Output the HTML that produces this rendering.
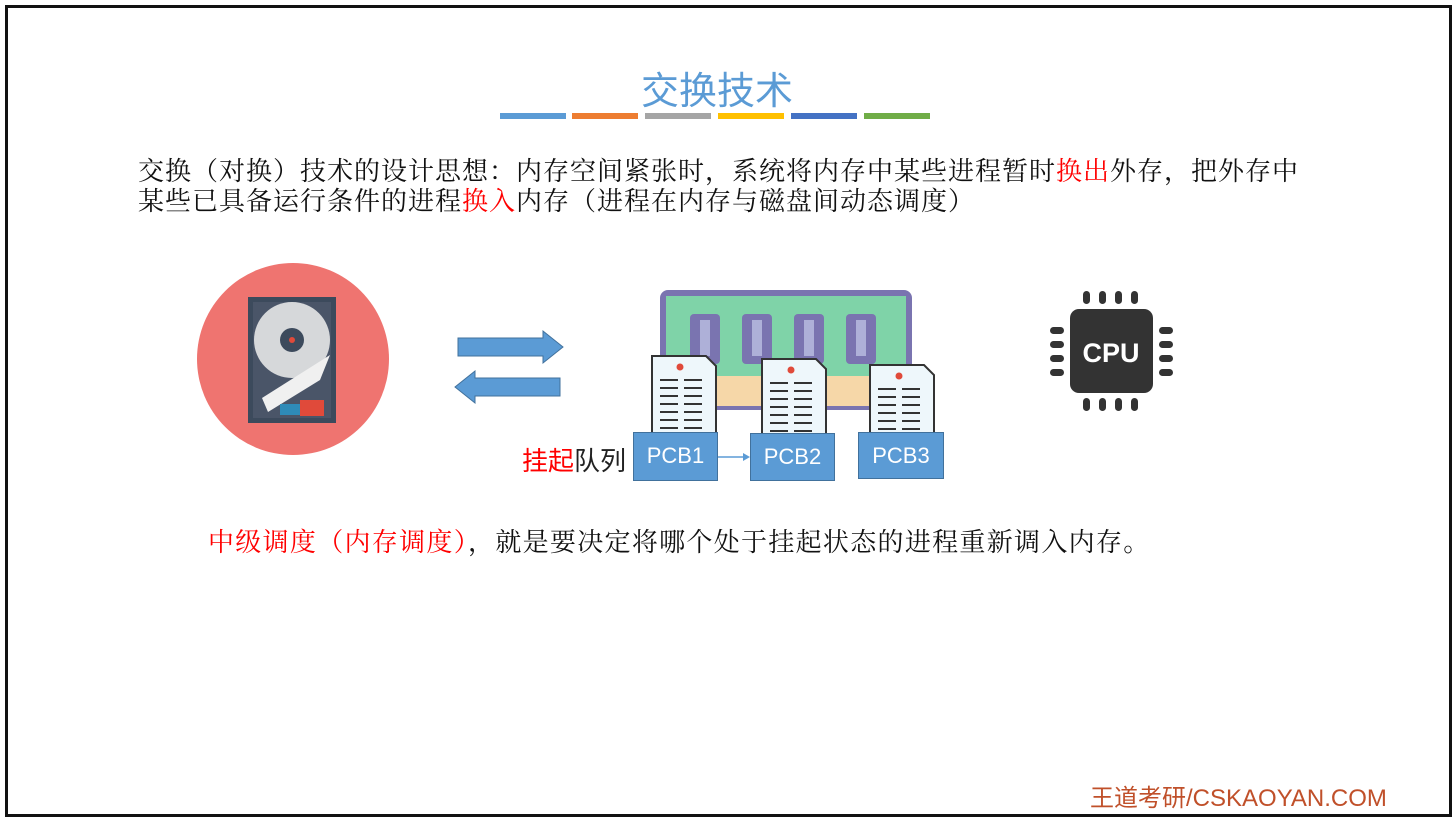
<!DOCTYPE html>
<html><head><meta charset="utf-8"><style>
body{margin:0;width:1456px;height:822px;background:#fff;position:relative;overflow:hidden;font-family:"Liberation Serif","Noto Serif CJK SC",serif;}
.frame{position:absolute;left:5px;top:5px;width:1441px;height:806px;border:3px solid #111;}
.t{position:absolute;white-space:nowrap;}
.r{color:#ff0000}
.bar{position:absolute;top:113px;width:66px;height:6px}
.pcb{position:absolute;background:#5b9bd5;border:1px solid #41719c;color:#fff;font-family:"Liberation Sans",sans-serif;font-size:22px;text-align:center;line-height:46px}
</style></head><body>
<div class="frame"></div>
<div class="t" style="left:641px;top:60px;font-size:38px;color:#5b9bd5;font-family:'Liberation Sans','Noto Sans CJK SC',sans-serif;">交换技术</div>
<div class="bar" style="left:500px;background:#5b9bd5"></div>
<div class="bar" style="left:572px;background:#ed7d31"></div>
<div class="bar" style="left:645px;background:#a5a5a5"></div>
<div class="bar" style="left:718px;background:#ffc000"></div>
<div class="bar" style="left:791px;background:#4472c4"></div>
<div class="bar" style="left:864px;background:#70ad47"></div>
<div class="t" style="left:138px;top:157px;font-size:26px;letter-spacing:1px;line-height:30px;color:#111">交换（对换）技术的设计思想：内存空间紧张时，系统将内存中某些进程暂时<span class="r">换出</span>外存，把外存中<br>某些已具备运行条件的进程<span class="r">换入</span>内存（进程在内存与磁盘间动态调度）</div>

<svg style="position:absolute;left:0;top:0" width="1456" height="822">
<circle cx="293" cy="359" r="96" fill="#ef7470"/>
<rect x="248" y="297" width="88" height="126" fill="#3c4a5c"/>
<rect x="253" y="302" width="78" height="116" fill="#4a5568"/>
<circle cx="292" cy="340" r="38" fill="#d6d8da"/>
<circle cx="292" cy="340" r="12" fill="#3c4a5c"/>
<circle cx="292" cy="340" r="3" fill="#e04a3a"/>
<polygon points="262,398 330,355 320,380 268,412" fill="#f0f0f0"/>
<rect x="280" y="404" width="20" height="11" fill="#2e8bb8"/>
<rect x="300" y="400" width="24" height="16" fill="#e04a3a"/>
<polygon points="458,338 543,338 543,331 563,347 543,363 543,356 458,356" fill="#5b9bd5" stroke="#41719c" stroke-width="1"/>
<polygon points="560,378 475,378 475,371 455,387 475,403 475,396 560,396" fill="#5b9bd5" stroke="#41719c" stroke-width="1"/>
<rect x="660" y="290" width="252" height="120" rx="8" fill="#7a74b0"/>
<rect x="666" y="296" width="240" height="80" fill="#7fd3a8"/>
<rect x="666" y="376" width="240" height="30" fill="#f6d7a8"/>
<rect x="690" y="314" width="30" height="50" rx="4" fill="#7a74b0"/><rect x="700" y="320" width="10" height="36" fill="#aeb0d8"/>
<rect x="742" y="314" width="30" height="50" rx="4" fill="#7a74b0"/><rect x="752" y="320" width="10" height="36" fill="#aeb0d8"/>
<rect x="794" y="314" width="30" height="50" rx="4" fill="#7a74b0"/><rect x="804" y="320" width="10" height="36" fill="#aeb0d8"/>
<rect x="846" y="314" width="30" height="50" rx="4" fill="#7a74b0"/><rect x="856" y="320" width="10" height="36" fill="#aeb0d8"/>
<g fill="#eef7fb" stroke="#333" stroke-width="2">
<path d="M652,356 h54 l10,10 v80 h-64z"/><path d="M762,359 h54 l10,10 v80 h-64z"/><path d="M870,365 h54 l10,10 v70 h-64z"/>
</g>
<circle cx="680" cy="367" r="3.5" fill="#e04a3a"/><circle cx="791" cy="370" r="3.5" fill="#e04a3a"/><circle cx="899" cy="376" r="3.5" fill="#e04a3a"/>
<g stroke="#333" stroke-width="2">
<path d="M660,380h18M684,380h18M660,388h18M684,388h18M660,396h18M684,396h18M660,404h18M684,404h18M660,412h18M684,412h18M660,420h18M684,420h18M660,428h18M684,428h18"/>
<path d="M770,383h18M794,383h18M770,391h18M794,391h18M770,399h18M794,399h18M770,407h18M794,407h18M770,415h18M794,415h18M770,423h18M794,423h18M770,431h18M794,431h18"/>
<path d="M878,389h18M902,389h18M878,397h18M902,397h18M878,405h18M902,405h18M878,413h18M902,413h18M878,421h18M902,421h18M878,429h18M902,429h18"/>
</g>
<line x1="718" y1="457" x2="745" y2="457" stroke="#5b9bd5" stroke-width="1.5"/><polygon points="750,457 743,453 743,461" fill="#5b9bd5"/>
<rect x="1070" y="309" width="83" height="84" rx="9" fill="#333"/>
<g fill="#333">
<rect x="1083" y="291" width="7" height="13" rx="3.5"/><rect x="1099" y="291" width="7" height="13" rx="3.5"/><rect x="1115" y="291" width="7" height="13" rx="3.5"/><rect x="1131" y="291" width="7" height="13" rx="3.5"/>
<rect x="1083" y="398" width="7" height="13" rx="3.5"/><rect x="1099" y="398" width="7" height="13" rx="3.5"/><rect x="1115" y="398" width="7" height="13" rx="3.5"/><rect x="1131" y="398" width="7" height="13" rx="3.5"/>
<rect x="1050" y="327" width="14" height="7" rx="3.5"/><rect x="1050" y="341" width="14" height="7" rx="3.5"/><rect x="1050" y="355" width="14" height="7" rx="3.5"/><rect x="1050" y="369" width="14" height="7" rx="3.5"/>
<rect x="1159" y="327" width="14" height="7" rx="3.5"/><rect x="1159" y="341" width="14" height="7" rx="3.5"/><rect x="1159" y="355" width="14" height="7" rx="3.5"/><rect x="1159" y="369" width="14" height="7" rx="3.5"/>
</g>
<text x="1111" y="362" text-anchor="middle" font-family="Liberation Sans,sans-serif" font-weight="bold" font-size="27" fill="#fff">CPU</text>
</svg>
<div class="pcb" style="left:633px;top:432px;width:83px;height:47px">PCB1</div>
<div class="pcb" style="left:750px;top:433px;width:83px;height:46px">PCB2</div>
<div class="pcb" style="left:858px;top:432px;width:84px;height:45px">PCB3</div>
<div class="t" style="left:522px;top:441px;font-size:26px;font-family:'Liberation Sans','Noto Sans CJK SC',sans-serif;color:#222"><span class="r">挂起</span>队列</div>
<div class="t" style="left:208px;top:522px;font-size:26px;letter-spacing:1.3px;color:#111"><span class="r">中级调度（内存调度）</span>，就是要决定将哪个处于挂起状态的进程重新调入内存。</div>
<div class="t" style="left:1090px;top:778px;font-size:24px;color:#c0502a;font-family:'Liberation Sans','Noto Sans CJK SC',sans-serif;">王道考研/CSKAOYAN.COM</div>
</body></html>
